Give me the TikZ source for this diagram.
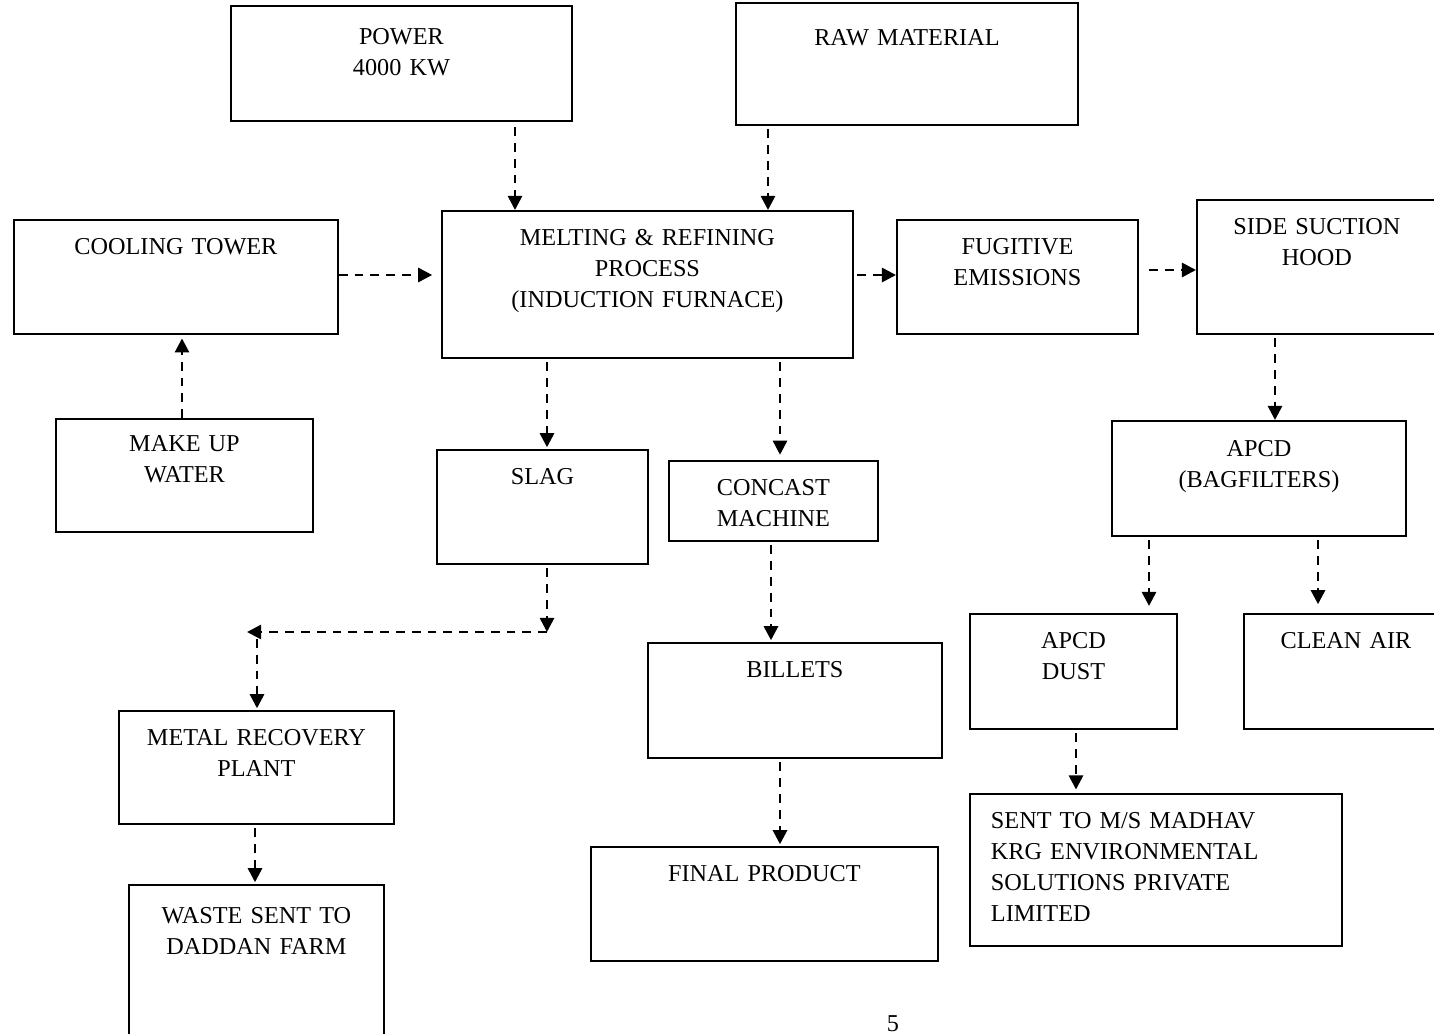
\documentclass[tikz,border=0pt]{standalone}
\usepackage{fontspec}
\setmainfont{Liberation Serif}
\usepackage{tikz}
\usetikzlibrary{arrows.meta}
\tikzset{box/.style = {draw, line width=1.1pt, anchor=north west, inner sep=0pt,
                       align=center, text height=0.7cm,
                       font=\fontsize{13.8pt}{17.6pt}\selectfont}}
\tikzset{flow/.style = {line width=1.5pt, dash pattern=on 5pt off 4pt,
                        -{Triangle[length=8pt, width=8pt]}}}

\begin{document}
\begin{tikzpicture}[x=0.02cm, y=-0.02cm]
      \useasboundingbox (0, 0) rectangle (1434, 1034);
      \clip (0, 0) rectangle (1434, 1034);
      % top row
      \node [box, text width=6.82cm, text height=0.78cm, text depth=1.52cm] (power) at (230, 5) {POWER\\4000 KW};
      \node [box, text width=6.84cm, text height=0.86cm, text depth=1.58cm] (raw) at (735, 2) {RAW MATERIAL};
      \node [box, text width=6.48cm, text depth=1.58cm] (cool) at (13, 219) {COOLING TOWER};
      \node [box, text width=8.22cm, text depth=2.24cm] (melt) at (441, 210) {MELTING \& REFINING\\PROCESS\\(INDUCTION FURNACE)};
      \node [box, text width=4.82cm, text depth=1.58cm] (fug) at (896, 219) {FUGITIVE\\EMISSIONS};
      \node [box, text width=4.80cm, text depth=1.98cm] (side) at (1196, 199) {SIDE SUCTION\\HOOD};
      % middle row
      \node [box, text width=5.14cm, text height=0.66cm, text depth=1.60cm] (makeup) at (55, 418) {MAKE UP\\WATER};
      \node [box, text width=4.22cm, text depth=1.58cm] (slag) at (436, 449) {SLAG};
      \node [box, text width=4.18cm, text depth=0.90cm] (concast) at (668, 460) {CONCAST\\MACHINE};
      \node [box, text width=5.88cm, text height=0.72cm, text depth=1.58cm] (apcd) at (1111, 420) {APCD\\(BAGFILTERS)};
      \node [box, text width=4.14cm, text depth=1.60cm] (dust) at (969, 613) {APCD\\DUST};
      \node [box, text width=4.08cm, text depth=1.60cm] (clean) at (1243, 613) {CLEAN AIR};
      % bottom rows
      \node [box, text width=5.88cm, text depth=1.60cm] (billets) at (647, 642) {BILLETS};
      \node [box, text width=5.50cm, text depth=1.56cm] (metal) at (118, 710) {METAL RECOVERY\\PLANT};
      \node [box, align=left, inner xsep=0.42cm, text width=6.60cm, text depth=2.34cm] (sent) at (969, 793)
            {SENT TO M/S MADHAV\\KRG ENVIRONMENTAL\\SOLUTIONS PRIVATE\\LIMITED};
      \node [box, text width=6.94cm, text depth=1.58cm] (final) at (590, 846) {FINAL PRODUCT};
      \node [box, text width=5.10cm, text height=0.78cm, text depth=3.22cm] (waste) at (128, 884) {WASTE SENT TO\\DADDAN FARM};
      \node [font=\fontsize{13.8pt}{17.6pt}\selectfont, anchor=south, inner sep=0pt] (pagenum) at (893, 1032) {5};
      % connectors
      \coordinate (bendR) at (547, 632);
      \coordinate (bendL) at (247, 632);
      \draw [flow, shorten <=3pt] (515, 0 |- power.south) -- (515, 0 |- melt.north);
      \draw [flow, shorten <=2pt] (768, 0 |- raw.south) -- (768, 0 |- melt.north);
      \draw [flow, shorten >=5pt] (cool.east |- 0, 275) -- (melt.west |- 0, 275);
      \draw [flow, shorten <=2pt] (melt.east |- 0, 275) -- (fug.west |- 0, 275);
      \draw [flow, shorten <=6pt] (fug.east |- 0, 270) -- (side.west |- 0, 270);
      \draw [flow, shorten >=2pt] (182, 0 |- makeup.north) -- (182, 0 |- cool.south);
      \draw [flow, shorten <=2pt, shorten >=1pt] (547, 0 |- melt.south) -- (547, 0 |- slag.north);
      \draw [flow, shorten <=2pt, shorten >=3pt] (780, 0 |- melt.south) -- (780, 0 |- concast.north);
      \draw [flow, shorten <=2pt] (1275, 0 |- side.south) -- (1275, 0 |- apcd.north);
      \draw [flow, shorten <=2pt, shorten >=4pt] (1149, 0 |- apcd.south) -- (1149, 0 |- dust.north);
      \draw [flow, shorten <=2pt, shorten >=5pt] (1318, 0 |- apcd.south) -- (1318, 0 |- clean.north);
      \draw [flow, shorten <=2pt] (slag.south -| bendR) -- (bendR);
      \draw [flow] (bendR) -- (bendL);
      \draw [flow, shorten <=4pt, shorten >=1pt] (257, 0 |- bendL) -- (257, 0 |- metal.north);
      \draw [flow, shorten <=2pt, shorten >=1pt] (771, 0 |- concast.south) -- (771, 0 |- billets.north);
      \draw [flow, shorten <=2pt, shorten >=1pt] (780, 0 |- billets.south) -- (780, 0 |- final.north);
      \draw [flow, shorten <=2pt, shorten >=1pt] (255, 0 |- metal.south) -- (255, 0 |- waste.north);
      \draw [flow, shorten <=2pt, shorten >=2pt] (1076, 0 |- dust.south) -- (1076, 0 |- sent.north);
\end{tikzpicture}
\end{document}
